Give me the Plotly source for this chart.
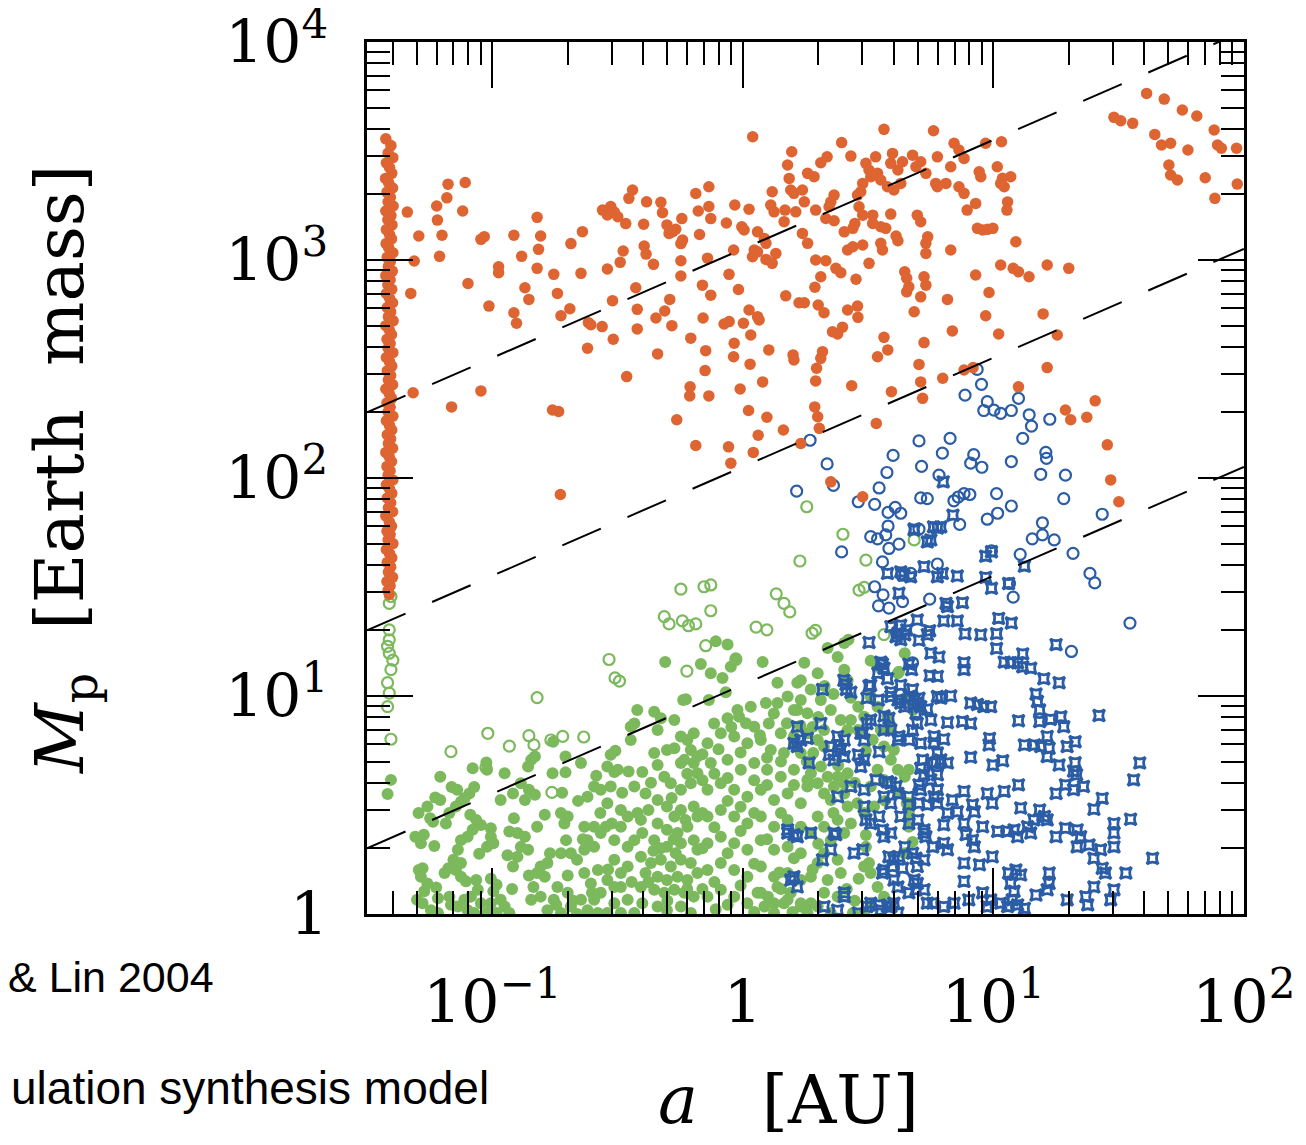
import plotly.graph_objects as go

# ---------------- data (a [AU], Mp [Earth mass]) ----------------
# gas giants, hot-Jupiter pile-up column near a ~ 0.04 AU
giant_column = [
    (0.0376, 3600), (0.0394, 3350), (0.0384, 3100), (0.0401, 2950), (0.0378, 2790),
    (0.0389, 2660), (0.0397, 2500), (0.0375, 2370), (0.0386, 2260), (0.0400, 2140),
    (0.0380, 2050), (0.0392, 1940), (0.0384, 1850), (0.0402, 1770), (0.0376, 1680),
    (0.0394, 1600), (0.0383, 1530), (0.0398, 1450), (0.0378, 1380), (0.0389, 1310),
    (0.0396, 1250), (0.0377, 1190), (0.0386, 1140), (0.0401, 1080), (0.0381, 1030),
    (0.0392, 985), (0.0385, 935), (0.0399, 890), (0.0376, 848), (0.0391, 812),
    (0.0383, 770), (0.0397, 735), (0.0378, 702), (0.0389, 668), (0.0400, 637),
    (0.0381, 606), (0.0393, 578), (0.0385, 550), (0.0402, 526), (0.0376, 500),
    (0.0388, 478), (0.0396, 455), (0.0380, 433), (0.0391, 414), (0.0384, 394),
    (0.0401, 376), (0.0378, 357), (0.0389, 341), (0.0397, 326), (0.0381, 310),
    (0.0393, 295), (0.0385, 282), (0.0400, 268), (0.0376, 256), (0.0388, 244),
    (0.0396, 232), (0.0380, 221), (0.0391, 211), (0.0384, 201), (0.0401, 192),
    (0.0378, 183), (0.0389, 174), (0.0397, 166), (0.0381, 158), (0.0393, 151),
    (0.0385, 144), (0.0400, 137), (0.0376, 131), (0.0388, 125), (0.0396, 119),
    (0.0380, 113), (0.0391, 108), (0.0384, 103), (0.0401, 98), (0.0378, 93),
    (0.0389, 89), (0.0397, 85), (0.0381, 81), (0.0393, 77), (0.0385, 73),
    (0.0400, 70), (0.0376, 67), (0.0388, 63), (0.0396, 60), (0.0380, 57),
    (0.0391, 55), (0.0384, 52), (0.0401, 50), (0.0378, 47), (0.0389, 45),
    (0.0397, 43), (0.0381, 41), (0.0393, 39), (0.0385, 37), (0.0400, 35),
    (0.0380, 33.5), (0.0391, 32), (0.0384, 30.5), (0.0388, 29.2),
]

giant_scatter = [
    (0.0458, 1660), (0.0488, 990), (0.0473, 703), (0.0509, 1290), (0.060, 1770),
    (0.0604, 1525), (0.0666, 2230), (0.0659, 1930), (0.078, 2270), (0.0762, 1680),
    (0.063, 1300), (0.0616, 1040), (0.080, 781), (0.0483, 246), (0.0688, 212),
    (0.0901, 251), (0.097, 615), (0.0901, 1245), (0.0929, 1280), (0.106, 932),
    (0.106, 875), (0.122, 1300), (0.131, 1040), (0.151, 1570), (0.156, 1290),
    (0.153, 1120), (0.151, 916), (0.135, 746), (0.140, 660), (0.122, 573),
    (0.125, 513), (0.176, 860), (0.182, 703), (0.206, 1190), (0.229, 1350),
    (0.226, 869), (0.188, 555), (0.204, 598), (0.174, 205), (0.184, 202),
    (0.242, 516), (0.2475, 505), (0.240, 394), (0.2745, 495), (0.304, 433),
    (0.288, 910), (0.324, 976), (0.333, 1100), (0.2755, 1695), (0.288, 1610),
    (0.307, 1660), (0.317, 1580), (0.297, 1760), (0.341, 1470), (0.351, 1920),
    (0.363, 2095), (0.413, 1850), (0.471, 1840), (0.478, 1650), (0.402, 1460),
    (0.404, 1160), (0.411, 1065), (0.440, 956), (0.374, 746), (0.302, 651),
    (0.379, 594), (0.379, 483), (0.450, 542), (0.488, 584), (0.511, 660),
    (0.521, 500), (0.457, 371), (0.344, 292), (0.498, 1450), (0.525, 1350),
    (0.540, 1385), (0.508, 1325), (0.571, 1550), (0.575, 1235), (0.566, 1190),
    (0.566, 993), (0.566, 845), (0.649, 2020), (0.732, 2170), (0.664, 1680),
    (0.732, 1760), (0.745, 1550), (0.672, 1310), (0.723, 1020), (0.690, 767),
    (0.745, 690), (0.694, 542), (0.620, 438), (0.711, 384), (0.707, 311),
    (0.616, 262), (0.614, 238), (0.732, 238), (0.545, 185), (0.649, 141),
    (0.860, 1480), (0.929, 1790), (1.059, 1710), (0.991, 1420), (1.012, 1373),
    (0.919, 1112), (0.881, 860), (0.961, 733), (0.842, 509), (0.882, 522),
    (1.006, 513), (1.059, 590), (1.145, 550), (1.162, 531), (1.076, 453),
    (0.924, 415), (0.919, 360), (1.069, 333), (1.20, 276), (0.976, 256),
    (1.054, 204), (1.248, 190), (1.152, 157), (0.877, 139), (1.101, 131),
    (0.896, 117), (1.27, 387), (1.587, 367), (1.60, 348), (1.095, 3680),
    (1.568, 3140), (1.509, 2730), (1.531, 2370), (1.554, 2095), (1.60, 2023),
    (1.73, 2095), (1.31, 2057), (1.293, 1787), (1.333, 1664), (1.474, 1695),
    (1.627, 1664), (1.462, 1500), (1.76, 1850), (1.814, 2500), (1.145, 1347),
    (1.219, 1257), (1.237, 1193), (1.111, 1112), (1.145, 1091), (1.093, 1036),
    (1.237, 1007), (1.31, 966), (1.355, 1073), (1.484, 685), (1.677, 637),
    (1.76, 637), (1.73, 1325), (1.814, 1193), (1.452, 166), (1.704, 144),
    (3.66, 3980), (5.77, 3920), (2.48, 3460), (2.70, 3000), (2.17, 2976),
    (2.048, 2797), (1.925, 2414), (1.954, 1695), (2.314, 1987), (2.245, 1849),
    (2.21, 1756), (2.145, 1552), (2.314, 1514), (1.954, 1000), (2.145, 993),
    (2.352, 916), (2.461, 875), (2.048, 838), (1.94, 750), (2.0, 622),
    (2.11, 573), (2.62, 590), (2.87, 615), (2.88, 546), (2.28, 469),
    (2.50, 492), (2.39, 458), (2.08, 380), (2.048, 354), (1.97, 319),
    (1.954, 279), (1.937, 212), (1.99, 191), (2.02, 169), (2.72, 265),
    (2.83, 816), (2.62, 1112), (2.75, 1151), (3.01, 1172), (2.54, 1347),
    (2.75, 1398), (2.80, 1473), (2.91, 1756), (3.01, 1607), (3.30, 1607),
    (3.30, 1473), (3.19, 966), (3.554, 1193), (3.61, 1112), (3.554, 1421),
    (3.72, 1398), (3.896, 1625), (4.09, 1290), (4.16, 1226), (3.10, 2779),
    (3.19, 2590), (3.242, 2412), (3.45, 2500), (3.554, 2330), (3.39, 2976),
    (3.01, 2248), (2.957, 2057), (2.87, 1987), (3.78, 2169), (4.01, 2095),
    (4.27, 2248), (4.16, 2590), (3.896, 2779), (4.34, 2826), (3.96, 3085),
    (4.76, 3030), (4.91, 2681), (5.38, 2500), (5.13, 2826), (5.89, 2248),
    (5.98, 2169), (6.47, 2248), (5.98, 2976), (6.76, 2681), (6.97, 3434),
    (7.29, 3200), (7.64, 2927), (7.29, 2169), (7.64, 2023), (8.5, 1819),
    (7.86, 1695), (8.78, 2542), (8.91, 2412), (9.32, 3434), (10.78, 3491),
    (10.37, 2681), (10.88, 2372), (11.05, 2169), (11.73, 2412), (10.70, 2248),
    (11.4, 1849), (11.33, 1695), (8.64, 1398), (9.06, 1373), (9.48, 1383),
    (9.96, 1398), (12.3, 1213), (6.76, 1112), (10.70, 949), (12.0, 916),
    (12.6, 884), (13.88, 838), (16.4, 949), (20.0, 916), (8.5, 854),
    (9.61, 710), (6.56, 660), (4.83, 579), (4.43, 884), (4.51, 825),
    (4.60, 754), (4.51, 715), (5.29, 838), (5.38, 767), (5.13, 678),
    (5.38, 1193), (5.38, 1073), (5.47, 1278), (4.97, 1607), (5.13, 1498),
    (9.32, 555), (6.86, 473), (10.5, 458), (15.8, 566), (18.0, 453),
    (5.29, 418), (3.66, 442), (3.79, 387), (3.45, 360), (5.05, 332),
    (3.92, 249), (5.13, 276), (5.22, 232), (3.41, 178), (7.64, 313),
    (8.3, 321), (6.28, 287), (12.6, 262), (16.4, 321), (19.4, 205),
    (20.36, 185), (23.6, 190), (25.5, 226), (28.5, 142), (29.4, 98),
    (40.9, 5816), (48.1, 5477), (56.8, 4880), (64.9, 4579), (30.3, 4517),
    (32.24, 4357), (36.0, 4238), (76.1, 3950), (78.5, 3373), (81.3, 3257),
    (93.5, 3257), (44.1, 3771), (46.9, 3373), (51.0, 3434), (59.8, 3200),
    (50.2, 2730), (51.0, 2456), (54.3, 2330), (70.1, 2386), (76.6, 1919),
    (94.1, 2231), (2.245, 96), (3.01, 82), (31.7, 77.8), (0.187, 84),
]

# icy / ice-giant planets (blue open circles)
ice_giants = [
    (8.62, 315), (8.97, 269), (7.71, 240), (9.46, 224), (9.16, 204),
    (10.06, 205), (10.7, 198), (11.8, 204), (12.6, 232), (13.9, 195),
    (14.2, 173), (16.8, 186), (13.1, 152), (1.856, 149), (5.05, 148),
    (6.72, 152), (6.26, 130), (3.98, 127), (2.17, 116), (5.17, 113),
    (3.76, 106), (6.07, 103), (8.35, 128), (8.12, 117), (9.0, 112),
    (11.8, 119), (16.2, 131), (16.3, 123), (15.46, 104), (19.4, 103),
    (19.1, 80.4), (2.30, 92.5), (1.64, 87), (3.50, 90), (2.89, 77.8),
    (3.36, 75.7), (5.13, 81), (5.45, 80.4), (6.96, 78.6), (7.24, 81.8),
    (7.64, 84.8), (8.06, 84), (10.3, 84.8), (11.8, 74.4), (4.06, 73.3),
    (4.27, 68.9), (3.80, 69.5), (9.46, 64.7), (10.4, 68.9), (7.34, 61.3),
    (3.80, 60.2), (15.7, 62.3), (3.24, 53.8), (3.45, 52.6), (3.72, 54.8),
    (3.83, 47.5), (4.20, 49.7), (5.05, 58.3), (14.3, 52.6), (15.7, 54.8),
    (17.5, 52), (2.48, 45.8), (9.83, 46.3), (12.8, 44.6), (3.61, 41.2),
    (5.98, 40.3), (4.31, 35.8), (4.68, 36.5), (11.6, 32.8), (12.0, 28.4),
    (3.36, 31.7), (3.63, 29.1), (3.48, 25.9), (3.83, 25.3), (4.34, 27.1),
    (5.57, 27.8), (27.2, 68.2), (20.8, 45.1), (24.3, 36.5), (25.4, 33),
    (35.1, 21.6), (20.5, 16.0), (4.76, 14.2),
]

# icy low-mass planets beyond the ice line (blue star-squares)
ice_cores = [
    (5.45, 50.9), (5.63, 52), (4.83, 57.7), (5.98, 59.0), (9.32, 43.8), (9.83, 45.9),
    (13.3, 39.4), (3.78, 36.5), (4.27, 37.1), (4.40, 35.8), (4.68, 35.2), (5.29, 39.2),
    (5.98, 35.2), (6.26, 36.5), (7.18, 35.5), (9.32, 35.0), (9.83, 31.2), (11.5, 32.8),
    (4.20, 29.6), (6.47, 26.6), (6.56, 25.7), (7.53, 26.8), (4.97, 22.3), (6.34, 22.1),
    (7.18, 22.1), (10.5, 22.7), (11.8, 21.6), (3.90, 20.8), (4.27, 21.1), (4.51, 20.1),
    (4.16, 19.4), (4.43, 19.1), (4.27, 18.1), (4.09, 18.7), (5.05, 18.0), (5.45, 19.1),
    (5.57, 19.9), (7.71, 19.3), (10.3, 19.3), (10.3, 16.5), (17.8, 17.2), (3.19, 17.6),
    (6.07, 15.1), (7.64, 14.2), (7.64, 13.2), (11.05, 14.3), (11.73, 14.2), (12.5, 14.2),
    (13.1, 13.6), (14.1, 13.4), (13.1, 15.6), (3.554, 14.3), (3.66, 13.4), (3.46, 12.7),
    (4.60, 14.0), (4.72, 13.2), (5.59, 12.4), (2.53, 11.8), (2.59, 10.7), (3.19, 11.1),
    (2.08, 10.7), (3.48, 9.59), (3.90, 9.94), (4.16, 9.59), (4.27, 9.28), (4.62, 9.94),
    (6.17, 9.77), (6.76, 10.0), (15.9, 12.0), (18.3, 11.5), (14.8, 10.2), (15.0, 9.43),
    (15.3, 8.63), (8.12, 9.28), (8.64, 9.13), (9.16, 8.93), (9.76, 8.93), (4.83, 9.59),
    (4.97, 9.28), (5.13, 8.93), (5.45, 8.70), (3.66, 8.09), (3.83, 7.90), (4.91, 8.33),
    (4.97, 7.48), (4.76, 6.98), (6.56, 7.55), (7.53, 7.63), (8.12, 7.48), (12.6, 7.70),
    (15.3, 7.63), (16.9, 7.81), (18.6, 8.03), (19.1, 7.22), (26.4, 8.13), (3.13, 7.48),
    (3.01, 6.75), (3.90, 6.98), (4.20, 6.52), (4.62, 6.28), (5.13, 6.06), (5.80, 6.10),
    (6.34, 6.33), (9.66, 6.39), (9.61, 5.96), (13.3, 5.96), (14.6, 5.96), (15.46, 5.86),
    (16.4, 6.52), (16.7, 5.75), (16.4, 5.27), (19.7, 5.86), (21.2, 6.16), (2.40, 5.96),
    (2.54, 6.28), (3.50, 5.55), (5.22, 5.09), (5.13, 4.66), (5.29, 4.35), (5.89, 4.93),
    (6.17, 5.09), (6.56, 4.93), (5.98, 4.35), (8.12, 5.23), (9.96, 4.82), (10.9, 5.04),
    (18.3, 4.82), (21.2, 4.94), (20.9, 4.52), (21.5, 4.35), (38.4, 4.93), (36.3, 4.12),
    (3.40, 4.12), (3.78, 4.04), (4.09, 3.84), (5.05, 3.91), (5.13, 3.71), (7.64, 3.65),
    (9.46, 3.57), (11.05, 3.65), (12.6, 3.91), (17.8, 3.57), (19.4, 3.91), (20.9, 3.71),
    (22.9, 3.84), (27.2, 3.39), (25.2, 3.02), (5.80, 3.45), (5.98, 3.22), (6.56, 2.90),
    (6.86, 3.33), (7.18, 2.94), (4.60, 3.17), (5.05, 3.22), (5.45, 3.17), (8.26, 3.17),
    (8.40, 2.94), (9.9, 3.22), (12.86, 3.06), (15.3, 3.0), (16.0, 2.80), (16.4, 2.70),
    (3.50, 2.80), (3.24, 2.60), (3.10, 2.70), (3.61, 2.43), (3.66, 2.26), (2.35, 2.31),
    (5.29, 2.43), (5.38, 2.26), (5.73, 2.03), (6.34, 2.56), (6.34, 2.11), (6.56, 1.97),
    (7.64, 2.60), (7.78, 2.31), (8.40, 2.03), (8.26, 2.18), (9.06, 2.51), (10.4, 2.39),
    (11.4, 2.39), (12.1, 2.43), (12.5, 2.26), (13.7, 2.51), (14.1, 2.35), (14.5, 2.70),
    (17.8, 2.26), (19.4, 2.47), (21.6, 2.43), (22.3, 2.26), (21.6, 2.03), (30.3, 2.60),
    (30.3, 2.35), (30.3, 2.03), (35.3, 2.72), (24.1, 2.07), (26.8, 1.97), (25.2, 1.80),
    (43.2, 1.80), (33.8, 1.54), (28.0, 1.54), (27.2, 1.62), (25.2, 1.33), (30.3, 1.29),
    (29.4, 1.16), (23.4, 1.20), (23.8, 1.10), (19.7, 1.16), (3.83, 1.83), (4.20, 1.83),
    (3.96, 1.65), (4.34, 1.62), (4.91, 1.80), (4.97, 1.65), (4.83, 1.43), (3.01, 1.97),
    (7.64, 1.71), (8.80, 1.68), (9.9, 1.83), (11.5, 1.54), (12.3, 1.59), (12.86, 1.51),
    (11.73, 1.38), (12.1, 1.27), (11.9, 1.16), (7.64, 1.41), (14.8, 1.22), (16.4, 1.29),
    (16.7, 1.54), (16.7, 1.38), (10.7, 1.12), (11.4, 1.08), (12.5, 1.10), (13.3, 1.06),
    (9.06, 1.25), (9.76, 1.16), (9.46, 1.08), (7.98, 1.16), (6.97, 1.12), (6.34, 1.08),
    (5.73, 1.12), (5.45, 1.12), (4.97, 1.38), (4.91, 1.29), (4.16, 1.33), (4.01, 1.12),
    (3.78, 1.08), (3.50, 1.10), (3.24, 1.12), (3.13, 1.08), (2.54, 1.20), (3.61, 1.54),
    (2.58, 11.3), (2.70, 10.4), (1.65, 7.22), (1.81, 6.39), (1.65, 5.86), (1.60, 6.06),
    (2.048, 7.48), (2.39, 6.52), (2.245, 5.86), (2.46, 5.65), (2.54, 5.27), (2.21, 5.37),
    (2.31, 5.09), (2.89, 5.37), (3.05, 5.09), (2.957, 4.74), (1.84, 4.93), (2.957, 6.75),
    (3.05, 6.28), (3.24, 7.76), (3.61, 14.0), (3.78, 12.0), (3.24, 11.2), (3.13, 9.77),
    (3.90, 10.4), (4.43, 8.93), (4.27, 11.2), (4.76, 10.7), (5.05, 9.77), (3.66, 6.98),
    (4.16, 6.28), (3.90, 3.98), (4.16, 3.57), (4.60, 3.45), (3.90, 3.22), (3.66, 3.45),
    (5.63, 4.12), (5.98, 3.71), (2.70, 3.84), (3.05, 3.71), (2.39, 3.45), (3.05, 3.11),
    (3.90, 2.35), (4.27, 2.80), (4.60, 2.60), (5.0, 2.70), (5.29, 2.35), (1.51, 2.35),
    (1.65, 2.26), (1.87, 2.35), (2.31, 2.35), (4.43, 2.03), (4.76, 1.90), (5.29, 1.77),
    (4.01, 1.77), (2.78, 1.90), (2.245, 1.97), (2.08, 1.77), (3.66, 1.59), (4.01, 1.43),
    (5.29, 1.29), (4.60, 1.25), (3.554, 1.04), (3.90, 1.08), (4.16, 1.01), (2.54, 1.25),
    (2.89, 1.01), (2.39, 1.04), (2.11, 1.08), (1.554, 1.43), (1.65, 1.33), (5.63, 15.7),
    (5.98, 12.3), (5.98, 9.94), (5.63, 7.76), (5.80, 6.52), (5.98, 5.47), (5.73, 4.93),
    (1.704, 6.28), (1.51, 2.43), (1.60, 2.31), (1.60, 1.48), (6.31, 96), (6.9, 67.5),
    (4.83, 58.3), (5.77, 59.7), (6.17, 59.7), (8.91, 19.1),
]

# rocky planets with thin envelopes (green open circles)
rocky_open = [
    (1.80, 73.8), (2.51, 55.2), (1.69, 41.6), (3.10, 42), (1.36, 29.4), (1.46, 26.6),
    (1.54, 24.3), (2.91, 30.6), (3.05, 31.5), (4.83, 52), (1.95, 20.0), (1.89, 19.4),
    (3.66, 19.1), (0.566, 30.9), (0.70, 31.7), (0.745, 32.3), (0.745, 24.6), (0.486, 23.1),
    (0.508, 21.4), (0.574, 22.1), (0.607, 21.0), (0.649, 21.4), (1.13, 20.7), (1.248, 20.1),
    (0.711, 17.0), (0.938, 14.7), (0.598, 13.0), (0.2925, 14.7), (0.309, 12.1), (0.322, 11.7),
    (0.151, 9.83), (0.096, 6.74), (0.0684, 5.55), (0.117, 5.89), (0.140, 6.57), (0.1467, 5.96),
    (0.1714, 6.28), (0.191, 6.52), (0.2318, 6.48), (0.0943, 4.69), (0.173, 3.61),
    (0.0394, 28.6), (0.0388, 26.6), (0.0388, 20.1), (0.0388, 18.1), (0.0382, 16.9),
    (0.0388, 15.7), (0.0401, 14.6), (0.0394, 13.2), (0.0382, 11.5), (0.0388, 10.3),
    (0.0382, 8.93), (0.0394, 6.33),
]

# rocky planets inside the ice line (green filled circles)
rocky = [
    (0.0394, 4.12), (0.0382, 3.55),
    (0.0835, 4.66), (0.0947, 4.95), (0.0953, 4.58), (0.0620, 4.26), (0.0688, 3.82),
    (0.0724, 3.71), (0.0847, 3.82), (0.0810, 3.57), (0.0774, 3.39), (0.0750, 3.27),
    (0.0716, 3.11), (0.0592, 3.42), (0.0620, 3.33), (0.0551, 3.11), (0.0508, 2.90),
    (0.0565, 2.75), (0.0580, 2.65), (0.0653, 2.60), (0.0674, 2.90), (0.0817, 2.85),
    (0.0863, 2.70), (0.0901, 2.56), (0.0835, 2.43), (0.0797, 2.26), (0.0750, 2.18),
    (0.0533, 2.31), (0.0519, 2.11), (0.0587, 2.05), (0.0987, 2.47), (0.0987, 2.26),
    (0.0953, 2.03), (0.101, 2.11), (0.0887, 1.89), (0.0729, 1.97), (0.0700, 1.77),
    (0.0668, 1.62), (0.0716, 1.59), (0.0750, 1.48), (0.0785, 1.41), (0.0750, 1.71),
    (0.0645, 1.54), (0.0527, 1.62), (0.0519, 1.48), (0.0551, 1.38), (0.0535, 1.27),
    (0.0597, 1.32), (0.0607, 1.18), (0.0527, 1.12), (0.0569, 1.04), (0.0607, 1.01),
    (0.0863, 1.43), (0.0876, 1.29), (0.0822, 1.20), (0.0774, 1.16), (0.0729, 1.08),
    (0.0797, 1.04), (0.0901, 1.12), (0.0847, 1.01), (0.0674, 1.20), (0.0684, 1.10),
    (0.0987, 1.45), (0.104, 1.36), (0.101, 1.27), (0.108, 1.16), (0.0987, 1.12),
    (0.112, 1.08), (0.104, 1.01), (0.117, 1.01), (0.0953, 1.01), (0.0493, 2.26),
    (0.0509, 1.59), (0.0501, 1.16),
    (0.112, 4.42), (0.108, 3.33), (0.121, 3.57), (0.135, 3.33), (0.140, 3.71),
    (0.130, 3.98), (0.139, 4.74), (0.143, 5.09), (0.148, 5.27), (0.175, 6.16),
    (0.196, 5.27), (0.174, 4.42), (0.196, 4.46), (0.226, 4.93), (0.148, 3.52),
    (0.162, 2.85), (0.151, 2.51), (0.122, 2.75), (0.117, 2.39), (0.126, 2.35),
    (0.135, 2.26), (0.130, 2.03), (0.115, 1.86), (0.126, 1.83), (0.121, 1.65),
    (0.139, 1.97), (0.166, 1.71), (0.156, 1.65), (0.151, 1.54), (0.162, 1.48),
    (0.146, 1.33), (0.156, 1.20), (0.143, 1.16), (0.188, 2.90), (0.200, 2.80),
    (0.194, 2.60), (0.240, 3.45), (0.255, 3.84), (0.271, 3.71), (0.297, 3.84),
    (0.288, 4.74), (0.307, 4.48), (0.297, 5.37), (0.197, 2.18), (0.206, 1.90),
    (0.188, 1.90), (0.218, 1.77), (0.233, 1.97), (0.240, 2.18), (0.255, 2.03),
    (0.233, 2.51), (0.255, 2.51), (0.271, 2.35), (0.284, 2.51), (0.233, 1.54),
    (0.264, 1.59), (0.2475, 1.38), (0.288, 1.43), (0.307, 1.33), (0.271, 1.25),
    (0.255, 1.16), (0.226, 1.16), (0.307, 1.12), (0.288, 1.01), (0.240, 1.04),
    (0.206, 1.08), (0.200, 1.25), (0.182, 1.33), (0.176, 1.16), (0.166, 1.04),
    (0.188, 1.01), (0.218, 1.00), (0.264, 1.01), (0.326, 3.00), (0.347, 2.80),
    (0.326, 2.51), (0.307, 2.18), (0.347, 2.03), (0.369, 2.18), (0.397, 2.35),
    (0.392, 2.70), (0.357, 7.22), (0.369, 7.48), (0.379, 8.63), (0.443, 8.47),
    (0.471, 7.90), (0.457, 6.98), (0.533, 7.76), (0.443, 5.47), (0.498, 5.65),
    (0.533, 5.75), (0.566, 6.52), (0.601, 6.28), (0.620, 5.65), (0.566, 4.93),
    (0.637, 4.93), (0.397, 4.48), (0.457, 4.82), (0.486, 4.26), (0.516, 3.98),
    (0.566, 3.71), (0.620, 3.98), (0.659, 4.42), (0.409, 3.57), (0.457, 3.33),
    (0.498, 3.11), (0.533, 2.80), (0.566, 3.00), (0.637, 3.11), (0.659, 2.80),
    (0.601, 2.51), (0.549, 2.35), (0.498, 2.43), (0.457, 2.60), (0.443, 2.18),
    (0.498, 2.03), (0.566, 2.11), (0.637, 2.18), (0.659, 1.97), (0.392, 1.83),
    (0.430, 1.71), (0.471, 1.77), (0.516, 1.65), (0.566, 1.77), (0.620, 1.71),
    (0.409, 1.54), (0.457, 1.48), (0.498, 1.43), (0.549, 1.48), (0.601, 1.43),
    (0.659, 1.54), (0.392, 1.33), (0.443, 1.29), (0.486, 1.25), (0.533, 1.29),
    (0.584, 1.25), (0.637, 1.20), (0.397, 1.12), (0.457, 1.08), (0.498, 1.04),
    (0.566, 1.08), (0.620, 1.01), (0.369, 1.01), (0.307, 1.77), (0.326, 1.54),
    (0.347, 1.65), (0.326, 1.33), (0.347, 1.16), (0.326, 1.01), (0.317, 4.58),
    (0.369, 3.84), (0.288, 3.22), (0.578, 9.59),
    (0.780, 17.8), (0.869, 17.2), (0.490, 14.3), (0.680, 14.0), (0.745, 12.7),
    (0.830, 12.1), (0.896, 13.6), (0.938, 14.9), (1.20, 14.3), (1.375, 11.5),
    (1.65, 11.5), (1.76, 14.2), (0.593, 9.66), (0.732, 9.59), (0.855, 10.4),
    (0.952, 8.63), (1.076, 8.93), (1.236, 9.28), (1.375, 9.28), (1.51, 9.94),
    (1.65, 8.63), (0.357, 6.28), (0.768, 7.48), (0.869, 7.90), (0.966, 8.03),
    (1.111, 7.22), (1.27, 7.48), (1.418, 6.75), (1.60, 6.52), (1.81, 6.75),
    (0.637, 6.75), (0.723, 6.06), (0.817, 6.75), (0.924, 6.52), (1.043, 6.06),
    (1.18, 6.28), (1.293, 5.65), (1.46, 5.47), (1.704, 5.47), (0.584, 5.09),
    (0.659, 5.27), (0.745, 4.93), (0.869, 5.09), (0.982, 4.58), (1.111, 4.93),
    (1.25, 4.58), (1.418, 4.26), (1.60, 4.58), (1.81, 4.12), (0.723, 3.71),
    (0.817, 3.98), (0.924, 3.71), (1.043, 3.45), (1.18, 3.71), (1.333, 3.33),
    (1.51, 3.57), (1.704, 3.22), (0.723, 2.80), (0.817, 3.00), (0.924, 2.80),
    (1.043, 2.60), (1.18, 2.80), (1.333, 2.51), (1.51, 2.70), (1.704, 2.51),
    (0.723, 2.11), (0.817, 2.26), (0.924, 2.11), (1.043, 1.97), (1.18, 2.18),
    (1.333, 1.97), (1.51, 2.03), (1.704, 1.90), (0.723, 1.59), (0.817, 1.71),
    (0.924, 1.59), (1.043, 1.48), (1.18, 1.65), (1.333, 1.48), (1.51, 1.54),
    (1.704, 1.43), (0.723, 1.20), (0.817, 1.29), (0.924, 1.20), (1.043, 1.12),
    (1.18, 1.25), (1.333, 1.12), (1.51, 1.16), (1.704, 1.08),
    (2.18, 16.6), (2.39, 15.1), (2.54, 13.2), (2.62, 11.8), (1.99, 12.7),
    (2.12, 11.1), (1.868, 10.7), (2.048, 9.59), (1.704, 11.8), (1.704, 9.59),
    (1.60, 8.63), (1.81, 8.33), (2.89, 8.93), (3.05, 8.03), (2.70, 7.76),
    (2.62, 6.98), (2.89, 6.98), (2.46, 7.76), (2.245, 8.63), (2.11, 6.98),
    (1.99, 6.28), (2.11, 5.86), (1.91, 5.47), (2.05, 4.74), (1.87, 4.42),
    (1.99, 3.98), (1.81, 3.84), (2.18, 4.26), (2.39, 4.26), (2.62, 4.42),
    (2.54, 3.98), (2.31, 3.84), (2.11, 3.57), (2.245, 3.33), (2.54, 3.57),
    (2.87, 3.22), (2.62, 3.11), (3.05, 2.90), (3.34, 3.11), (3.24, 3.84),
    (3.45, 4.58), (3.66, 4.12), (3.90, 5.09), (4.16, 4.58), (4.43, 4.26),
    (4.16, 3.57), (4.60, 3.22), (3.66, 5.86), (4.01, 5.65), (3.554, 6.98),
    (3.79, 8.03), (3.45, 8.93), (3.24, 9.94), (3.45, 13.6), (4.16, 12.7),
    (4.43, 15.7), (1.99, 2.80), (2.11, 2.51), (2.39, 2.70), (1.87, 2.35),
    (2.245, 2.18), (2.54, 2.35), (2.11, 1.90), (2.39, 1.77), (1.99, 1.71),
    (1.87, 1.48), (2.18, 1.43), (2.46, 1.54), (2.11, 1.25), (2.39, 1.20),
    (1.99, 1.08), (2.245, 1.01), (1.81, 1.01), (1.704, 1.12), (1.554, 1.25),
    (1.375, 1.33), (1.46, 1.12), (1.333, 1.01), (1.22, 1.08), (1.145, 1.25),
    (3.05, 1.65), (3.24, 1.54), (3.45, 1.33), (3.66, 1.20), (3.24, 1.12),
    (3.05, 1.01), (4.60, 2.51), (4.76, 2.14), (4.43, 1.90), (2.54, 17.5),
    (2.64, 18.1), (3.24, 14.5), (4.20, 12.9), (4.43, 9.59), (4.78, 8.63),
    (4.60, 4.58), (4.51, 3.22), (4.60, 2.90), (3.10, 2.03), (3.19, 1.71),
    (2.75, 1.01), (1.87, 1.12),
    (0.77, 1.40), (0.87, 1.90), (0.98, 2.40), (1.11, 1.70), (1.25, 2.20),
    (1.42, 1.30), (1.60, 1.80), (0.77, 2.50), (0.87, 3.30), (0.98, 3.10),
    (1.11, 2.90), (1.25, 3.90), (1.42, 2.90), (1.60, 3.90), (0.77, 4.40),
    (0.87, 4.20), (0.98, 5.50), (1.11, 4.10), (1.25, 5.20), (1.42, 5.00),
    (1.60, 6.00), (0.80, 5.70), (0.90, 7.20), (1.03, 7.50), (1.17, 6.60),
    (1.33, 8.30), (1.50, 7.50), (1.70, 7.30), (0.78, 1.05), (0.87, 1.10),
    (0.98, 1.35), (1.11, 1.02), (1.26, 1.20), (1.40, 1.55), (1.58, 1.02),
    (0.69, 1.30), (0.69, 2.00), (0.69, 2.90), (0.69, 4.10), (0.69, 5.40),
    (0.42, 1.40), (0.47, 2.00), (0.53, 2.20), (0.59, 2.70), (0.42, 3.00),
    (0.52, 3.40), (0.60, 4.40), (0.43, 4.00), (0.38, 2.90), (0.36, 1.40),
    (0.50, 1.15), (0.60, 1.30), (0.54, 1.90), (0.44, 1.95), (0.20, 1.50),
    (0.23, 2.20), (0.27, 2.90), (0.30, 2.60), (0.17, 1.90), (0.14, 1.50),
    (0.12, 1.30), (0.21, 1.15), (0.29, 1.60), (0.25, 1.25), (0.18, 1.10),
    (0.22, 3.30), (0.19, 3.60), (0.26, 4.30), (0.33, 3.60), (0.35, 4.50),
    (0.31, 5.60), (1.90, 1.60), (2.00, 2.10), (2.30, 2.90), (2.70, 2.60),
    (2.90, 1.45), (2.60, 1.30), (2.40, 4.80), (2.80, 4.00), (3.10, 5.60),
    (2.70, 9.80), (2.30, 10.2), (2.00, 8.00), (1.80, 5.00), (1.90, 7.20),
    (3.30, 6.30), (3.70, 3.30), (3.90, 7.10), (3.10, 2.30), (2.80, 1.15),
]

# dashed guide lines M = C * a^(1/2)
guide_a = [10 ** -1.5, 100.0]
guide_lines = [[2.0, 112.5], [20.0, 1125.0], [200.0, 11250.0]]

x_tick_vals = [0.1, 1, 10, 100]
x_tick_text = ["10<sup>\u22121</sup>", "1", "10<sup>1</sup>", "10<sup>2</sup>"]
y_tick_vals = [1, 10, 100, 1000, 10000]
y_tick_text = ["1", "10<sup>1</sup>", "10<sup>2</sup>", "10<sup>3</sup>", "10<sup>4</sup>"]
x_minor = [k * 10 ** d for d in (-2, -1, 0, 1) for k in range(2, 10)]
y_minor = [k * 10 ** d for d in (0, 1, 2, 3) for k in range(2, 10)]

# ---------------- styles ----------------
ORANGE = "#DE6432"
GREEN = "#7BB95C"
BLUE = "#2B5CA6"
SERIF = "DejaVu Serif"

def xs(pts):
    return [p[0] for p in pts]

def ys(pts):
    return [p[1] for p in pts]

fig = go.Figure()

fig.add_trace(go.Scatter(x=xs(rocky), y=ys(rocky), mode="markers",
                         marker=dict(color=GREEN, size=12, line=dict(width=0)),
                         showlegend=False))
fig.add_trace(go.Scatter(x=xs(rocky_open), y=ys(rocky_open), mode="markers",
                         marker=dict(symbol="circle-open", color=GREEN, size=11,
                                     line=dict(width=2.2, color=GREEN)),
                         showlegend=False))
fig.add_trace(go.Scatter(x=xs(ice_cores), y=ys(ice_cores), mode="markers",
                         marker=dict(symbol="star-square-open", color=BLUE, size=10.5,
                                     line=dict(width=2.8, color=BLUE)),
                         showlegend=False))
fig.add_trace(go.Scatter(x=xs(ice_giants), y=ys(ice_giants), mode="markers",
                         marker=dict(symbol="circle-open", color=BLUE, size=11,
                                     line=dict(width=2.2, color=BLUE)),
                         showlegend=False))
giants = giant_column + giant_scatter
fig.add_trace(go.Scatter(x=xs(giants), y=ys(giants), mode="markers",
                         marker=dict(color=ORANGE, size=11.5, line=dict(width=0)),
                         showlegend=False))
for gl in guide_lines:
    fig.add_trace(go.Scatter(x=guide_a, y=gl, mode="lines",
                             line=dict(color="black", width=2, dash="42px,29px"),
                             showlegend=False, hoverinfo="skip"))

axis_common = dict(
    type="log", showgrid=False, zeroline=False, showline=True, linecolor="black",
    linewidth=2.5, mirror="ticks", ticks="inside", ticklen=46, tickwidth=2,
    tickcolor="black", tickfont=dict(family=SERIF, size=60, color="black"),
    automargin=False, ticklabeloverflow="allow",
)

fig.update_xaxes(**axis_common, range=[-1.5, 2.0005], tickmode="array",
                 tickvals=x_tick_vals, ticktext=x_tick_text, ticklabelstandoff=34,
                 minor=dict(tickmode="array", tickvals=x_minor, ticks="inside",
                            ticklen=23, tickwidth=2, tickcolor="black", showgrid=False))
fig.update_yaxes(**axis_common, range=[-0.0005, 4.0005], tickmode="array",
                 tickvals=y_tick_vals, ticktext=y_tick_text, ticklabelstandoff=24,
                 minor=dict(tickmode="array", tickvals=y_minor, ticks="inside",
                            ticklen=23, tickwidth=2, tickcolor="black", showgrid=False))

# the page body adds an 8 px offset; the figure is sized so the plot lands in place
OFF = 8
W, H = 1306 - OFF, 1145 - OFF
X0, X1, Y0, Y1 = 367, 1244, 42, 914      # plot area on screen
PL, PT = X0 - OFF, Y0 - OFF
PR, PB = W - (X1 - OFF), H - (Y1 - OFF)
pw, ph = X1 - X0, Y1 - Y0

def px(xs_):
    return (xs_ - X0) / pw

def py(ys_):
    return (Y1 - ys_) / ph

annotations = [
    dict(text="<i>M</i><sub>p</sub>&nbsp;&nbsp;[Earth&nbsp;&nbsp;mass]", x=px(64), y=py(470),
         xref="paper", yref="paper", textangle=-90, showarrow=False, xanchor="center",
         yanchor="middle", font=dict(family=SERIF, size=68, color="black")),
    dict(text="<i>a</i>&nbsp;&nbsp;&nbsp;[AU]", x=px(788), y=py(1100), xref="paper",
         yref="paper", showarrow=False, xanchor="center", yanchor="middle",
         font=dict(family=SERIF, size=67, color="black")),
    dict(text="&amp; Lin 2004", x=px(216), y=py(977), xref="paper", yref="paper",
         showarrow=False, xanchor="right", yanchor="middle",
         font=dict(family="Liberation Sans", size=43, color="black")),
    dict(text="ulation synthesis model", x=px(9), y=py(1088), xref="paper", yref="paper",
         showarrow=False, xanchor="left", yanchor="middle",
         font=dict(family="Liberation Sans", size=46, color="black")),
]

fig.update_layout(
    width=W, height=H, template="none",
    margin=dict(l=PL, r=PR, t=PT, b=PB, pad=0),
    paper_bgcolor="white", plot_bgcolor="white",
    annotations=annotations, showlegend=False,
)

fig.write_html("out.html")
